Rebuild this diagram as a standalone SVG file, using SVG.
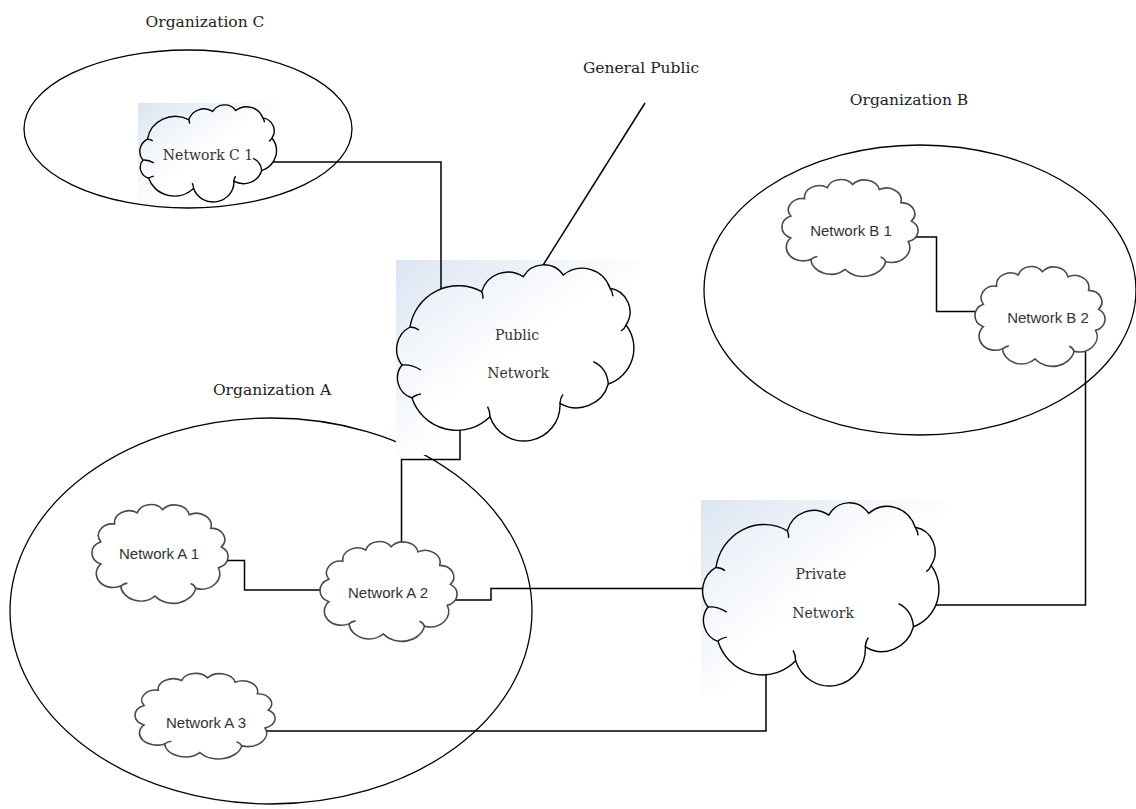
<svg xmlns="http://www.w3.org/2000/svg" width="1136" height="809" viewBox="0 0 1136 809">
<style>
.org{fill:none;stroke:#000;stroke-width:1.3}
.conn{fill:none;stroke:#000;stroke-width:1.5}
.vcloud{fill:url(#cg);stroke:#000;stroke-width:1.4}
.scloud{fill:#fff;stroke:#4a4a4a;stroke-width:1.6}
.curl{fill:none}
.lbl{font-family:"DejaVu Serif","Liberation Serif",serif;font-size:15.5px;fill:#222;text-anchor:middle}
.vt{font-family:"DejaVu Serif","Liberation Serif",serif;font-size:14px;fill:#333;text-anchor:middle}
.st{font-family:"Liberation Sans",Arial,sans-serif;font-size:15px;fill:#333;text-anchor:middle}
</style>
<defs>
<linearGradient id="bg" x1="0" y1="0" x2="1" y2="1">
<stop offset="0" stop-color="#dbe5f2"/>
<stop offset="0.55" stop-color="#ffffff"/>
</linearGradient>
<linearGradient id="cg" x1="0" y1="0" x2="1" y2="1">
<stop offset="0" stop-color="#e3eaf5"/>
<stop offset="0.5" stop-color="#ffffff"/>
</linearGradient>
<path id="vc" vector-effect="non-scaling-stroke" d="M410,327 A48.9 48.9 0 0 1 481.7,291.7 A27.5 27.5 0 0 1 523.3,276.7 A23.7 23.7 0 0 1 563.3,275 A29.5 29.5 0 0 1 610,288.3 A23.8 23.8 0 0 1 626,325 A37.9 37.9 0 0 1 608.3,384 A33 33 0 0 1 560,403.3 A36 36 0 0 1 490,416.7 A47.2 47.2 0 0 1 412,398 A21 21 0 0 1 402,365 A25.4 25.4 0 0 1 410,327 Z"/>
<path id="vcurl" class="curl" vector-effect="non-scaling-stroke" d="M481.7,291.7 q1.5,3.5 1.2,7 M610,288.3 q2.5,3 3,8 M626,325 q-1.5,4 -5,6 M593.3,361.7 Q607,368 608.3,384 M490,416.7 q0,-6 -2.5,-10 M412,398 q3,-3 9,-4 M402,365 q9,-1 19,5 M410,327 q5,0 9,3 M560,403.3 q0,-5 3,-9"/>
<path id="sc" vector-effect="non-scaling-stroke" d="M9.4,61.3 A10.2 10.2 0 0 1 9.4,42.7 A9.6 9.6 0 0 1 18.8,27.9 A10 10 0 0 1 34.3,18.6 A9.6 9.6 0 0 1 51.5,16 A10.3 10.3 0 0 1 69.7,20.2 A10.1 10.1 0 0 1 84.4,31.3 A9.5 9.5 0 0 1 91.6,47 A9.6 9.6 0 0 1 89.5,64.3 A12.7 12.7 0 0 1 74.1,81.5 A15.7 15.7 0 0 1 46.3,87.9 A13.6 13.6 0 0 1 23,79.6 A11.6 11.6 0 0 1 9.4,61.3 Z"/>
<path id="scurl" class="curl" vector-effect="non-scaling-stroke" d="M74.1,81.5 q-1,-3 -3.5,-4 M23,79.6 q2,-2 4.5,-2.5"/>
</defs>
<rect width="1136" height="809" fill="#fff"/>
<g id="organization-a-boundary">
<ellipse id="org-a" class="org" cx="271" cy="611" rx="261" ry="193"/>
</g>
<g id="backgrounds">
<rect x="138" y="103" width="140" height="100" fill="url(#bg)"/>
<rect x="396" y="260" width="244" height="195" fill="url(#bg)"/>
<rect x="701" y="500" width="244" height="196" fill="url(#bg)"/>
</g>
<g id="organization-boundaries">
<ellipse id="org-c" class="org" cx="188" cy="129" rx="164" ry="79"/>
<ellipse id="org-b" class="org" cx="920" cy="290" rx="216" ry="145"/>
</g>
<g id="connectors" class="conn">
<path d="M265,162 H441 V300"/>
<path d="M645,103 L540,270"/>
<path d="M460,425 V459.5 H401.5 V555"/>
<path d="M215,560.5 H244.5 V590 H330"/>
<path d="M445,600 H491 V588.5 H715"/>
<path d="M260,731 H766 V660"/>
<path d="M930,605 H1085.5 V340"/>
<path d="M905,237 H936.5 V311.5 H985"/>
</g>
<g id="labels">
<text class="lbl" x="205" y="27">Organization C</text>
<text class="lbl" x="641" y="73">General Public</text>
<text class="lbl" x="909" y="105">Organization B</text>
<text class="lbl" x="272" y="395">Organization A</text>
</g>
<g id="network-c1">
<g class="vcloud" transform="translate(140,105) scale(0.576,0.551) translate(-397,-265)"><use href="#vc"/><use href="#vcurl"/></g>
<text class="vt" x="208" y="160">Network C 1</text>
</g>
<g id="public-network">
<g class="vcloud"><use href="#vc"/><use href="#vcurl"/></g>
<text class="vt" x="517" y="340">Public</text>
<text class="vt" x="518" y="378">Network</text>
</g>
<g id="private-network">
<g class="vcloud" transform="translate(703,503) scale(0.996,1.04) translate(-397,-265)"><use href="#vc"/><use href="#vcurl"/></g>
<text class="vt" x="821" y="579">Private</text>
<text class="vt" x="823" y="618">Network</text>
</g>
<g id="network-b1">
<g class="scloud" transform="translate(777,165.75) scale(1.467,1.178)"><use href="#sc"/><use href="#scurl"/></g>
<text class="st" x="851" y="236">Network B 1</text>
</g>
<g id="network-b2">
<g class="scloud" transform="translate(970.2,252.4) scale(1.402,1.212)"><use href="#sc"/><use href="#scurl"/></g>
<text class="st" x="1048" y="323">Network B 2</text>
</g>
<g id="network-a1">
<g class="scloud" transform="translate(87,490.5) scale(1.467,1.201)"><use href="#sc"/><use href="#scurl"/></g>
<text class="st" x="159" y="559">Network A 1</text>
</g>
<g id="network-a2">
<g class="scloud" transform="translate(315,527.4) scale(1.478,1.212)"><use href="#sc"/><use href="#scurl"/></g>
<text class="st" x="388" y="598">Network A 2</text>
</g>
<g id="network-a3">
<g class="scloud" transform="translate(129.9,661.2) scale(1.51,1.039)"><use href="#sc"/><use href="#scurl"/></g>
<text class="st" x="206" y="728">Network A 3</text>
</g>
</svg>
